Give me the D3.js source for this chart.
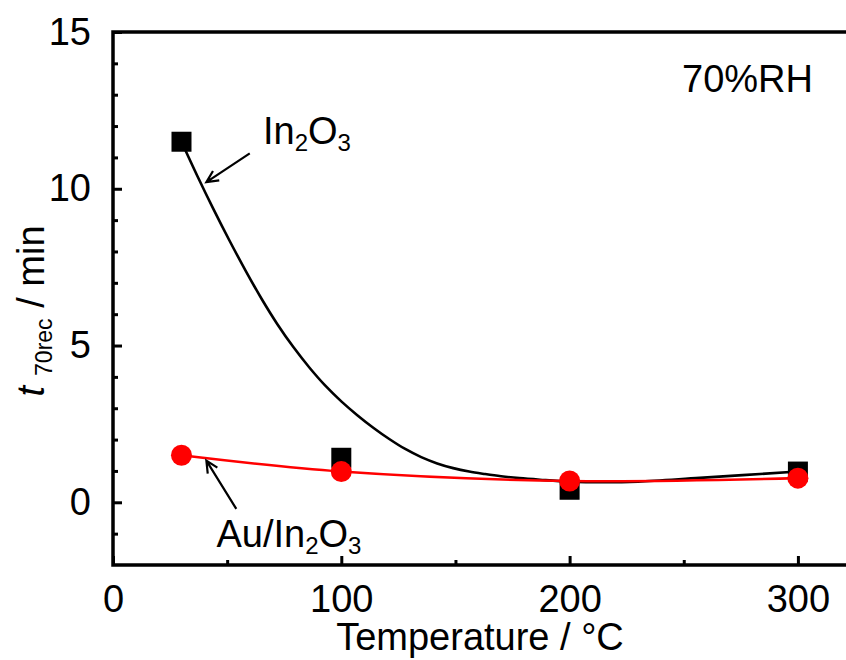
<!DOCTYPE html>
<html>
<head>
<meta charset="utf-8">
<script src="https://cdn.jsdelivr.net/npm/d3@7"></script>
<style>
  body { margin: 0; background: #fff; }
  svg { display: block; font-family: "Liberation Sans", Arial, sans-serif; }
</style>
</head>
<body>
<div id="chart"></div>
<script>
// DATA
// measured points
var temps = [30, 100, 200, 300];
var in2o3 = [11.5, 1.42, 0.4, 0.98];
var auIn2o3 = [1.5, 0.98, 0.68, 0.77];
// fitted curve for In2O3
var fitX = [30, 37, 44, 51, 58, 65, 72, 79, 86, 93, 100, 107, 114, 121, 128, 135, 142, 149, 156, 163, 170, 178, 187, 200, 215, 230, 257, 300];
var fitY = [11.5, 10.4, 9.35, 8.35, 7.4, 6.5, 5.68, 4.95, 4.3, 3.72, 3.22, 2.78, 2.38, 2.02, 1.7, 1.44, 1.24, 1.09, 0.98, 0.9, 0.83, 0.77, 0.72, 0.66, 0.64, 0.66, 0.78, 0.98];
// axis ticks
var xMajor = [0, 100, 200, 300];
var xMinor = [50, 150, 250];
var yMajor = [0, 5, 10, 15];
var yMinor = [-1, 1, 2, 3, 4, 6, 7, 8, 9, 11, 12, 13, 14];

var svgWidth = 846;
var svgHeight = 660;
var margin = { top: 32, left: 113, bottom: 95 };

var svg = d3.select("#chart")
    .append("svg")
    .attr("width", svgWidth)
    .attr("height", svgHeight);

// scales (right edge of the frame is cut off, like the picture)
var x = d3.scaleLinear()
    .domain([0, 330])
    .range([margin.left, margin.left + 753.4]);
var y = d3.scaleLinear()
    .domain([-2, 15])
    .range([svgHeight - margin.bottom, margin.top]);

var fontSize = 38;

// y axis, ticks pointing inward
svg.append("g")
    .attr("transform", `translate(${margin.left},0)`)
    .call(d3.axisLeft(y).tickValues(yMajor).tickSize(-9).tickPadding(22).tickSizeOuter(0));
svg.append("g")
    .attr("transform", `translate(${margin.left},0)`)
    .call(d3.axisLeft(y).tickValues(yMinor).tickSize(-5).tickFormat(""));

// x axis
svg.append("g")
    .attr("transform", `translate(0,${y(-2)})`)
    .call(d3.axisBottom(x).tickValues(xMajor).tickSize(-9).tickPadding(20).tickSizeOuter(0));
svg.append("g")
    .attr("transform", `translate(0,${y(-2)})`)
    .call(d3.axisBottom(x).tickValues(xMinor).tickSize(-5).tickFormat(""));

svg.selectAll(".domain").remove();
svg.selectAll(".tick line").attr("stroke", "#000").attr("stroke-width", 3);
svg.selectAll(".tick text")
    .attr("font-size", fontSize)
    .attr("font-family", "'Liberation Sans', Arial, sans-serif")
    .attr("fill", "#000");

// frame: top, left, bottom
svg.append("path")
    .attr("d", `M${svgWidth + 5},${y(15)} H${x(0)} V${y(-2)} H${svgWidth + 5}`)
    .attr("fill", "none")
    .attr("stroke", "#000")
    .attr("stroke-width", 3.5)
    .attr("stroke-linecap", "square");

// axis titles
svg.append("text")
    .attr("x", 480)
    .attr("y", 650)
    .attr("text-anchor", "middle")
    .attr("font-size", fontSize)
    .text("Temperature / \u00B0C");

var yTitle = svg.append("text")
    .attr("transform", `translate(44, 311) rotate(-90)`)
    .attr("text-anchor", "middle")
    .attr("font-size", fontSize);
yTitle.append("tspan").attr("font-style", "italic").text("t");
yTitle.append("tspan").attr("font-size", 23).attr("dx", 10).attr("dy", 8).text("70rec");
yTitle.append("tspan").attr("dy", -8).text(" / min");

// In2O3 fitted curve
var fitLine = d3.line()
    .x((d, i) => x(fitX[i]))
    .y(d => y(d))
    .curve(d3.curveCatmullRom);
svg.append("path")
    .datum(fitY)
    .attr("d", fitLine)
    .attr("fill", "none")
    .attr("stroke", "#000")
    .attr("stroke-width", 2.6);

// In2O3 squares
var sq = 20;
svg.selectAll("rect.in2o3")
    .data(in2o3)
    .enter()
    .append("rect")
    .attr("class", "in2o3")
    .attr("x", (d, i) => x(temps[i]) - sq / 2)
    .attr("y", d => y(d) - sq / 2)
    .attr("width", sq)
    .attr("height", sq)
    .attr("fill", "#000");

// Au/In2O3 line + circles
var redLine = d3.line()
    .x((d, i) => x(temps[i]))
    .y(d => y(d))
    .curve(d3.curveCatmullRom);
svg.append("path")
    .datum(auIn2o3)
    .attr("d", redLine)
    .attr("fill", "none")
    .attr("stroke", "#ff0000")
    .attr("stroke-width", 2.6);
svg.selectAll("circle.au")
    .data(auIn2o3)
    .enter()
    .append("circle")
    .attr("class", "au")
    .attr("cx", (d, i) => x(temps[i]))
    .attr("cy", d => y(d))
    .attr("r", 10.5)
    .attr("fill", "#ff0000");

// annotations
function arrow(x1, y1, x2, y2) {
    var p1 = [x(x1), y(y1)], p2 = [x(x2), y(y2)];
    var ang = Math.atan2(p2[1] - p1[1], p2[0] - p1[0]);
    var len = 13, spread = 0.45;
    var a = [p2[0] - len * Math.cos(ang - spread), p2[1] - len * Math.sin(ang - spread)];
    var b = [p2[0] - len * Math.cos(ang + spread), p2[1] - len * Math.sin(ang + spread)];
    svg.append("path")
        .attr("d", `M${p1} L${p2} M${a} L${p2} L${b}`)
        .attr("fill", "none")
        .attr("stroke", "#000")
        .attr("stroke-width", 2.2);
}
arrow(59.9, 11.13, 40.9, 10.21);
arrow(54.0, -0.21, 40.9, 1.33);

function chemLabel(xv, yv, parts) {
    var t = svg.append("text")
        .attr("x", x(xv))
        .attr("y", y(yv))
        .attr("font-size", fontSize);
    var shift = 0;
    parts.forEach(p => {
        var dy = p.sub ? 7 - shift : -shift;
        shift = p.sub ? 7 : 0;
        t.append("tspan")
            .attr("dy", dy)
            .attr("font-size", p.sub ? 24 : fontSize)
            .text(p.t);
    });
}
chemLabel(65.7, 11.43, [{ t: "In" }, { t: "2", sub: true }, { t: "O" }, { t: "3", sub: true }]);
chemLabel(45.3, -1.44, [{ t: "Au/In" }, { t: "2", sub: true }, { t: "O" }, { t: "3", sub: true }]);

svg.append("text")
    .attr("x", x(306.6))
    .attr("y", y(13.08))
    .attr("text-anchor", "end")
    .attr("font-size", fontSize)
    .text("70%RH");
</script>
</body>
</html>
